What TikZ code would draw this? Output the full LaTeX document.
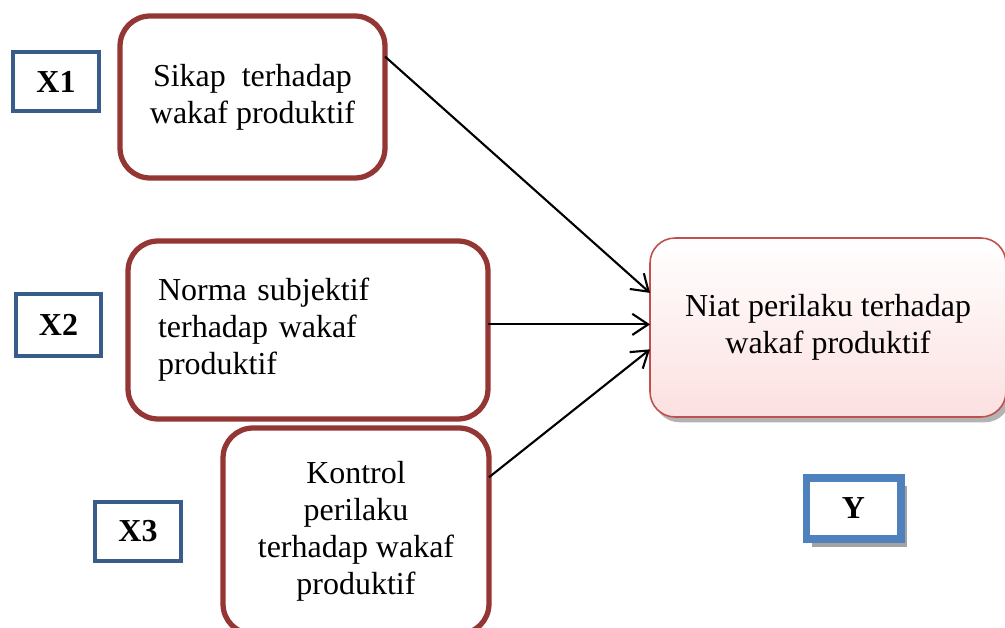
\documentclass[tikz,border=0pt]{standalone}
\usepackage{fontspec}
\setmainfont{Liberation Serif}
\usetikzlibrary{arrows.meta,shadows}
\definecolor{boxred}{HTML}{943634}
\definecolor{xblue}{HTML}{385D8A}
\definecolor{yblue}{HTML}{4F81BD}
\definecolor{niatborder}{HTML}{C0504D}
\definecolor{niatpink}{RGB}{252,224,224}
\begin{document}
\begin{tikzpicture}[x=0.02cm,y=-0.02cm,
  every node/.style={font=\fontsize{18.2}{21}\selectfont, outer sep=0pt},
  varbox/.style={draw=boxred, line width=3pt, rounded corners=0.6cm, fill=white, align=center},
  xlabel/.style={draw=xblue, line width=2.7pt, fill=white, font=\fontsize{18.2}{21}\selectfont\bfseries},
  ylabel/.style={draw=yblue, line width=4pt, fill=white, font=\fontsize{18.2}{21}\selectfont\bfseries,
     drop shadow={shadow xshift=3.4pt, shadow yshift=-4.6pt, fill=gray!85, opacity=0.85}},
  niatbox/.style={draw=niatborder, line width=0.9pt, rounded corners=0.5cm, align=center,
     top color=white, bottom color=niatpink,
     drop shadow={shadow xshift=2.4pt, shadow yshift=-3pt, fill=gray!70, opacity=0.85}},
  arr/.style={line width=1.2pt, -{Straight Barb[length=9pt,width=12pt]}}]
\useasboundingbox (0,0) rectangle (1005,628);

\node[varbox, minimum width=5.3cm, minimum height=3.24cm] (sikap) at (252.5,97)
  {Sikap\ \ terhadap\\wakaf produktif};
\node[varbox, minimum width=7.2cm, minimum height=3.56cm, text width=6cm, inner xsep=0.6cm, align=left] (norma) at (308,330)
  {Norma subjektif\\terhadap wakaf\\produktif};
\node[varbox, minimum width=5.32cm, minimum height=4.12cm] (kontrol) at (356,531)
  {Kontrol\\perilaku\\terhadap wakaf\\produktif};
\node[niatbox, minimum width=7.12cm, minimum height=3.58cm] (niat) at (828,327.5)
  {Niat perilaku terhadap\\wakaf produktif};

\node[xlabel, minimum width=1.72cm, minimum height=1.18cm] (x1) at (56,81.5) {X1};
\node[xlabel, minimum width=1.7cm, minimum height=1.24cm] (x2) at (58.5,325) {X2};
\node[xlabel, minimum width=1.72cm, minimum height=1.18cm] (x3) at (138,531.5) {X3};
\node[ylabel, minimum width=1.9cm, minimum height=1.22cm] (y) at (853.5,508.5) {Y};

\draw[arr] (sikap.17) -- (niat.169.7);
\draw[arr] (norma.east |- niat.179.5) -- (niat.179.5);
\draw[arr] (kontrol.22) -- (niat.187.8);
\end{tikzpicture}
\end{document}
